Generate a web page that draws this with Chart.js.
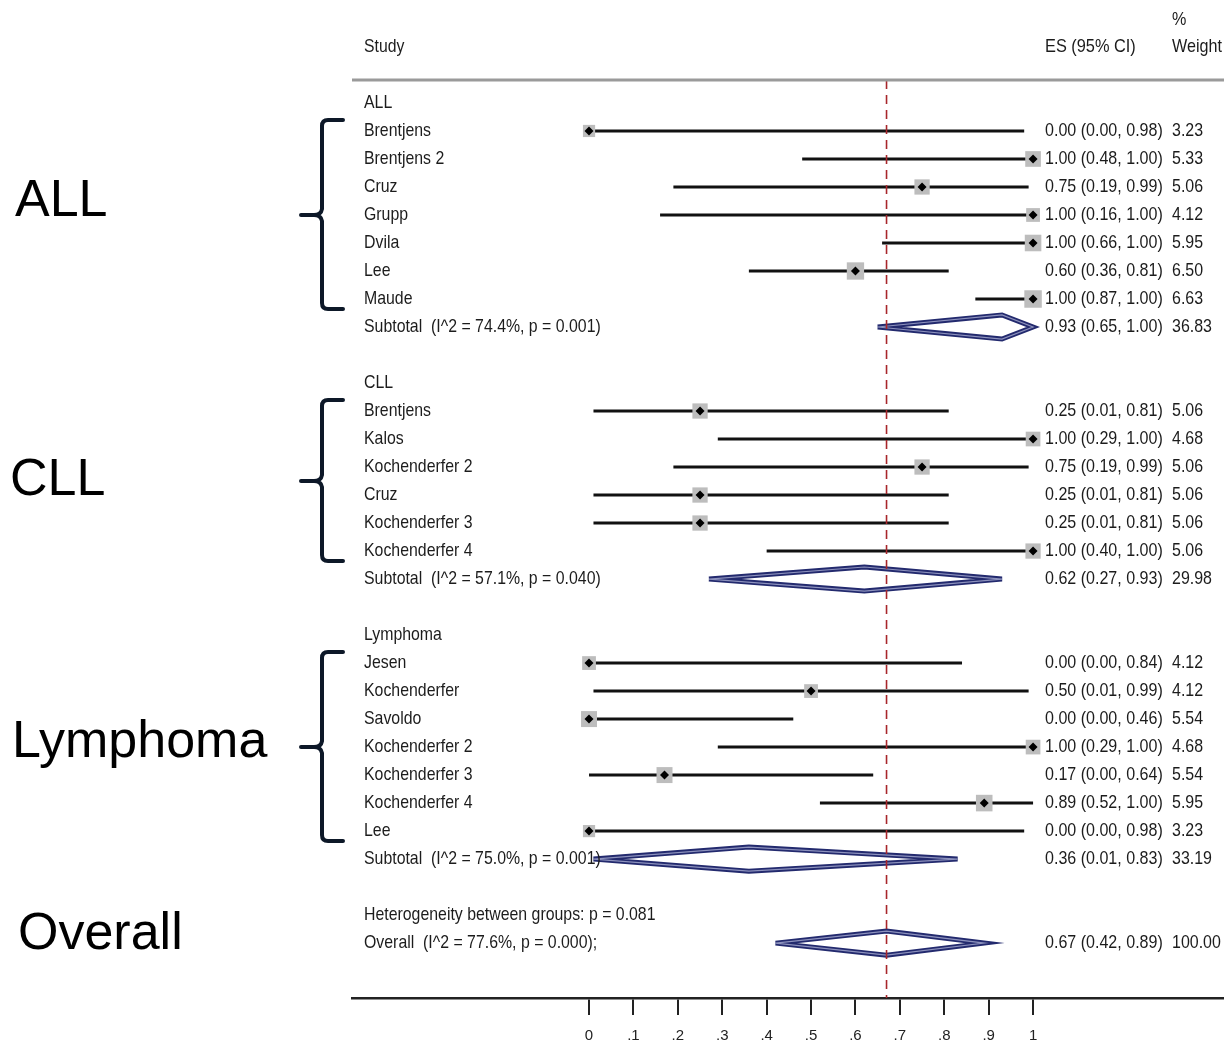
<!DOCTYPE html>
<html>
<head>
<meta charset="utf-8">
<script src="https://cdn.jsdelivr.net/npm/chart.js@4.4.0/dist/chart.umd.min.js"></script>
<style>
  html, body { margin: 0; padding: 0; background: #fff; }
</style>
</head>
<body>
<canvas id="forest" width="1224" height="1042"></canvas>
<script>
// ---------- data ----------
const allStudies = ['Brentjens', 'Brentjens 2', 'Cruz', 'Grupp', 'Dvila', 'Lee', 'Maude'];
const allEs = [0.00, 1.00, 0.75, 1.00, 1.00, 0.60, 1.00];
const allLo = [0.00, 0.48, 0.19, 0.16, 0.66, 0.36, 0.87];
const allHi = [0.98, 1.00, 0.99, 1.00, 1.00, 0.81, 1.00];
const allWeight = [3.23, 5.33, 5.06, 4.12, 5.95, 6.50, 6.63];

const cllStudies = ['Brentjens', 'Kalos', 'Kochenderfer 2', 'Cruz', 'Kochenderfer 3', 'Kochenderfer 4'];
const cllEs = [0.25, 1.00, 0.75, 0.25, 0.25, 1.00];
const cllLo = [0.01, 0.29, 0.19, 0.01, 0.01, 0.40];
const cllHi = [0.81, 1.00, 0.99, 0.81, 0.81, 1.00];
const cllWeight = [5.06, 4.68, 5.06, 5.06, 5.06, 5.06];

const lymStudies = ['Jesen', 'Kochenderfer', 'Savoldo', 'Kochenderfer 2', 'Kochenderfer 3', 'Kochenderfer 4', 'Lee'];
const lymEs = [0.00, 0.50, 0.00, 1.00, 0.17, 0.89, 0.00];
const lymLo = [0.00, 0.01, 0.00, 0.29, 0.00, 0.52, 0.00];
const lymHi = [0.84, 0.99, 0.46, 1.00, 0.64, 1.00, 0.98];
const lymWeight = [4.12, 4.12, 5.54, 4.68, 5.54, 5.95, 3.23];

const groupNames = ['ALL', 'CLL', 'Lymphoma'];
const subEs = [0.93, 0.62, 0.36];
const subLo = [0.65, 0.27, 0.01];
const subHi = [1.00, 0.93, 0.83];
const subWeight = [36.83, 29.98, 33.19];
const subI2 = ['74.4%', '57.1%', '75.0%'];
const subP = ['0.001', '0.040', '0.001'];

const overallEs = 0.67;
const overallLo = 0.42;
const overallHi = 0.89;
const overallWeight = 100.00;
const overallI2 = '77.6%';
const overallP = '0.000';
const heteroP = '0.081';

const tickValues = [0, 0.1, 0.2, 0.3, 0.4, 0.5, 0.6, 0.7, 0.8, 0.9, 1];
const tickLabels = ['0', '.1', '.2', '.3', '.4', '.5', '.6', '.7', '.8', '.9', '1'];

// ---------- build rows ----------
const groups = [
  { studies: allStudies, es: allEs, lo: allLo, hi: allHi, w: allWeight },
  { studies: cllStudies, es: cllEs, lo: cllLo, hi: cllHi, w: cllWeight },
  { studies: lymStudies, es: lymEs, lo: lymLo, hi: lymHi, w: lymWeight }
];

let rows = [];      // text rows
let studyRows = []; // individual studies
let pooled = [];    // diamonds
let groupSpans = [];
let r = 0;

groups.forEach((g, gi) => {
  rows.push({ y: r, label: groupNames[gi] });
  r++;
  const first = r;
  g.studies.forEach((name, i) => {
    studyRows.push({ y: r, es: g.es[i], lo: g.lo[i], hi: g.hi[i], w: g.w[i] });
    rows.push({ y: r, label: name, es: g.es[i], lo: g.lo[i], hi: g.hi[i], w: g.w[i] });
    r++;
  });
  groupSpans.push({ name: groupNames[gi], first: first, last: r - 1 });
  pooled.push({ y: r, es: subEs[gi], lo: subLo[gi], hi: subHi[gi] });
  rows.push({ y: r, label: 'Subtotal  (I^2 = ' + subI2[gi] + ', p = ' + subP[gi] + ')',
              es: subEs[gi], lo: subLo[gi], hi: subHi[gi], w: subWeight[gi] });
  r += 2;
});
rows.push({ y: r, label: 'Heterogeneity between groups: p = ' + heteroP });
r++;
rows.push({ y: r, label: 'Overall  (I^2 = ' + overallI2 + ', p = ' + overallP + ');',
            es: overallEs, lo: overallLo, hi: overallHi, w: overallWeight });
pooled.push({ y: r, es: overallEs, lo: overallLo, hi: overallHi });
const overallRow = r;

// ---------- datasets ----------
const sans = '"Liberation Sans", Arial, sans-serif';
const yTop = -0.82;
const yBottom = 31.96;
const halfH = 0.43;

let datasets = [];

// reference line at overall estimate
datasets.push({
  type: 'line',
  data: [{ x: overallEs, y: yTop }, { x: overallEs, y: yBottom }],
  borderColor: '#a8262b',
  borderWidth: 1.6,
  borderDash: [9, 6],
  pointRadius: 0,
  order: 0
});

// black diamonds on the point estimate
datasets.push({
  type: 'scatter',
  data: studyRows.map(s => ({ x: s.es, y: s.y })),
  pointStyle: 'rectRot',
  pointRadius: 4.5,
  backgroundColor: '#000',
  borderWidth: 0,
  order: 1
});

// grey weight boxes
datasets.push({
  type: 'scatter',
  data: studyRows.map(s => ({ x: s.es, y: s.y })),
  pointStyle: 'rect',
  pointRadius: ctx => {
    const s = studyRows[ctx.dataIndex];
    return s ? Math.sqrt(s.w) * 4.8 : 0;
  },
  backgroundColor: '#bdbdbd',
  borderWidth: 0,
  order: 2
});

// confidence interval lines
studyRows.forEach(s => {
  datasets.push({
    type: 'line',
    data: [{ x: s.lo, y: s.y }, { x: s.hi, y: s.y }],
    borderColor: '#111',
    borderWidth: 3,
    pointRadius: 0,
    order: 3
  });
});

// pooled diamonds
pooled.forEach(p => {
  const poly = [
    { x: p.lo, y: p.y },
    { x: p.es, y: p.y - halfH },
    { x: p.hi, y: p.y },
    { x: p.es, y: p.y + halfH },
    { x: p.lo, y: p.y }
  ];
  datasets.push({
    type: 'line', data: poly, borderColor: '#232a6e', borderWidth: 5,
    pointRadius: 0, tension: 0, order: 4
  });
  datasets.push({
    type: 'line', data: poly, borderColor: '#8d92bd', borderWidth: 1.2,
    pointRadius: 0, tension: 0, order: 3.5
  });
});

// narrow-looking text: squeeze Liberation Sans horizontally
function squeezeText(ctx, str, x, y, sx) {
  ctx.save();
  ctx.translate(x, y);
  ctx.scale(sx, 1);
  ctx.fillText(str, 0, 0);
  ctx.restore();
}

// ---------- text, header rule and braces ----------
const textPlugin = {
  id: 'forestText',
  afterDraw(chart) {
    const ctx = chart.ctx;
    const ya = chart.scales.y;
    const area = chart.chartArea;
    ctx.save();

    // header rule
    ctx.strokeStyle = '#9a9a9a';
    ctx.lineWidth = 3;
    ctx.beginPath();
    ctx.moveTo(area.left, area.top);
    ctx.lineTo(area.right, area.top);
    ctx.stroke();

    ctx.fillStyle = '#1c1c1c';
    ctx.font = '19px ' + sans;
    ctx.textBaseline = 'middle';
    ctx.textAlign = 'left';
    squeezeText(ctx, 'Study', 364, 47, 0.83);
    squeezeText(ctx, 'ES (95% CI)', 1045, 47, 0.86);
    squeezeText(ctx, '%', 1172, 20, 0.85);
    squeezeText(ctx, 'Weight', 1172, 47, 0.85);

    rows.forEach(row => {
      const y = ya.getPixelForValue(row.y);
      squeezeText(ctx, row.label, 364, y, 0.835);
      if (row.es !== undefined) {
        squeezeText(ctx, row.es.toFixed(2) + ' (' + row.lo.toFixed(2) + ', ' + row.hi.toFixed(2) + ')', 1045, y, 0.845);
        squeezeText(ctx, row.w.toFixed(2), 1172, y, 0.84);
      }
    });

    // big group names on the left, with braces
    ctx.fillStyle = '#000';
    ctx.font = '52px ' + sans;
    const bigX = [15, 10, 12];
    const bigDy = [-13, 0, -4];
    groupSpans.forEach((g, i) => {
      const mid = (ya.getPixelForValue(g.first) + ya.getPixelForValue(g.last)) / 2;
      ctx.fillText(g.name, bigX[i], mid + bigDy[i]);

      const top = ya.getPixelForValue(g.first) - 11;
      const bot = ya.getPixelForValue(g.last) + 10;
      ctx.strokeStyle = '#0d1828';
      ctx.lineWidth = 4;
      ctx.lineCap = 'round';
      ctx.lineJoin = 'round';
      ctx.beginPath();
      ctx.moveTo(343, top);
      ctx.lineTo(328, top);
      ctx.quadraticCurveTo(322, top, 322, top + 6);
      ctx.lineTo(322, mid - 6);
      ctx.quadraticCurveTo(321, mid, 314, mid);
      ctx.lineTo(301, mid);
      ctx.moveTo(314, mid);
      ctx.quadraticCurveTo(321, mid, 322, mid + 6);
      ctx.lineTo(322, bot - 6);
      ctx.quadraticCurveTo(322, bot, 328, bot);
      ctx.lineTo(343, bot);
      ctx.stroke();
    });
    ctx.fillText('Overall', 18, ya.getPixelForValue(overallRow) - 8);

    ctx.restore();
  }
};

new Chart(document.getElementById('forest'), {
  data: { datasets: datasets },
  options: {
    responsive: false,
    animation: false,
    layout: { autoPadding: false, padding: { left: 352, right: 0, top: 80, bottom: -15 } },
    plugins: { legend: { display: false }, tooltip: { enabled: false } },
    scales: {
      x: {
        type: 'linear',
        min: -0.5338,
        max: 1.430,
        afterBuildTicks: scale => {
          scale.ticks = tickValues.map(v => ({ value: v }));
        },
        grid: { drawOnChartArea: false, drawTicks: true, tickLength: 17, color: '#222', lineWidth: 2 },
        border: { display: true, color: '#222', width: 2.5 },
        ticks: {
          autoSkip: false,
          maxRotation: 0,
          padding: 12,
          color: '#222',
          font: { family: sans, size: 15 },
          callback: (v, i) => tickLabels[i]
        }
      },
      y: {
        type: 'linear',
        display: false,
        reverse: true,
        min: yTop,
        max: yBottom
      }
    }
  },
  plugins: [textPlugin]
});
</script>
</body>
</html>
